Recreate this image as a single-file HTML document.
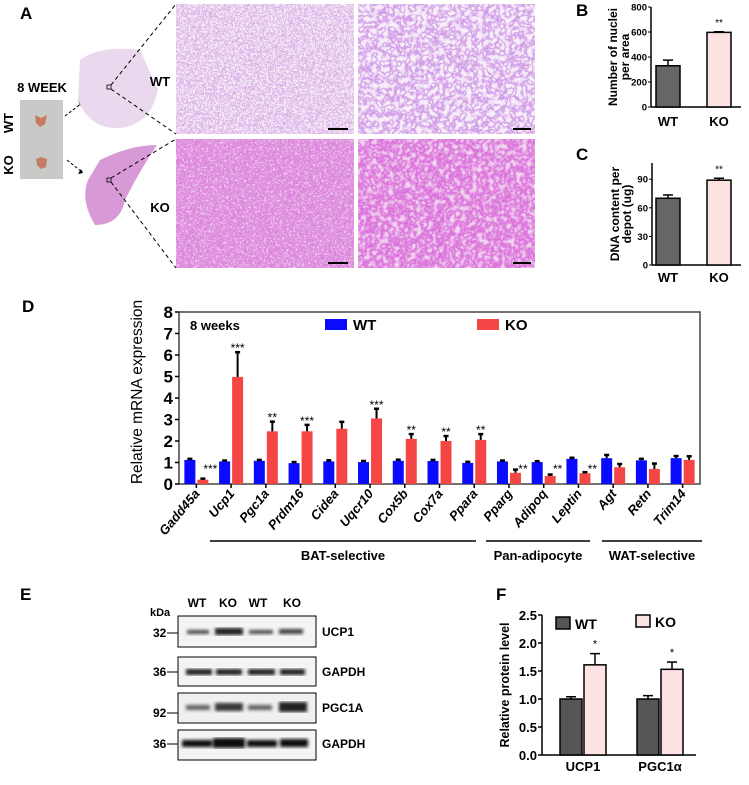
<!DOCTYPE html>
<html><head><meta charset="utf-8">
<style>
html,body{margin:0;padding:0;background:#fff;}
svg{display:block;font-family:"Liberation Sans",Arial,sans-serif;}
</style></head>
<body>
<svg id="fig" width="749" height="785" viewBox="0 0 749 785" xmlns="http://www.w3.org/2000/svg">
<defs>
<filter id="texLow" x="0" y="0" width="100%" height="100%">
  <feTurbulence type="fractalNoise" baseFrequency="0.45" numOctaves="2" seed="3"/>
  <feColorMatrix values="0 0 0 0 0.62  0 0 0 0 0.28  0 0 0 0 0.74  1 0 0 0 0"/>
  <feComponentTransfer><feFuncA type="table" tableValues="0 0 0 0.8 0.1 0 0 0"/></feComponentTransfer>
</filter>
<filter id="texLowK" x="0" y="0" width="100%" height="100%">
  <feTurbulence type="fractalNoise" baseFrequency="0.45" numOctaves="2" seed="7"/>
  <feColorMatrix values="0 0 0 0 0.7  0 0 0 0 0.2  0 0 0 0 0.7  1 0 0 0 0"/>
  <feComponentTransfer><feFuncA type="table" tableValues="0 0 0.5 1 0.6 0.1 0 0"/></feComponentTransfer>
</filter>
<filter id="texHigh" x="0" y="0" width="100%" height="100%">
  <feTurbulence type="fractalNoise" baseFrequency="0.18" numOctaves="2" seed="5"/>
  <feColorMatrix values="0 0 0 0 0.58  0 0 0 0 0.25  0 0 0 0 0.78  1 0 0 0 0"/>
  <feComponentTransfer><feFuncA type="table" tableValues="0 0 0 0.9 0.2 0 0 0"/></feComponentTransfer>
</filter>
<filter id="texHighK" x="0" y="0" width="100%" height="100%">
  <feTurbulence type="fractalNoise" baseFrequency="0.18" numOctaves="2" seed="9"/>
  <feColorMatrix values="0 0 0 0 0.7  0 0 0 0 0.15  0 0 0 0 0.7  1 0 0 0 0"/>
  <feComponentTransfer><feFuncA type="table" tableValues="0 0 0.4 1 0.5 0.1 0 0"/></feComponentTransfer>
</filter>
<filter id="blur1"><feGaussianBlur stdDeviation="1.6"/></filter>
</defs>

<!-- Panel A -->
<g>
<text x="20" y="19" font-size="17" font-weight="bold">A</text>
<text x="42" y="92" font-size="13" font-weight="bold" text-anchor="middle">8 WEEK</text>
<rect x="20" y="100" width="43" height="79" fill="#c9c9c7"/>
<path d="M35 115 l6 3 l6 -3 l-2 9 l-5 3 l-4 -4z" fill="#c77a62"/>
<path d="M36 159 l5 -2 l6 2 l-1 8 l-5 2 l-4 -4z" fill="#c57d66"/>
<text transform="translate(13,123) rotate(-90)" font-size="13" font-weight="bold" text-anchor="middle">WT</text>
<text transform="translate(13,165) rotate(-90)" font-size="13" font-weight="bold" text-anchor="middle">KO</text>
<path d="M65 116 L82 103" stroke="#000" stroke-dasharray="3,2" fill="none"/>
<path d="M78 100 l5 2 l-3 4z" fill="#000"/>
<path d="M67 160 L82 172" stroke="#000" stroke-dasharray="3,2" fill="none"/>
<path d="M78 174 l5 -1 l-2 -4z" fill="#000"/>
<path d="M80 60 Q100 45 140 50 L158 90 Q150 125 120 128 Q90 130 78 100 Z" fill="#ead8ee"/>
<path d="M100 160 Q130 145 157 145 Q140 170 125 200 Q120 225 95 225 Q80 200 88 180 Z" fill="#d89ad6"/>
<rect x="107" y="85" width="4" height="4" fill="none" stroke="#000" stroke-width="0.8"/>
<rect x="107" y="178" width="4" height="4" fill="none" stroke="#000" stroke-width="0.8"/>
<path d="M111 85 L176 4 M111 89 L176 134 M111 178 L176 139 M111 182 L176 268" stroke="#000" stroke-dasharray="4,3" fill="none"/>
<text x="160" y="86" font-size="13" font-weight="bold" text-anchor="middle">WT</text>
<text x="160" y="212" font-size="13" font-weight="bold" text-anchor="middle">KO</text>
<g><rect x="176" y="4" width="178" height="130" fill="#f6eef7"/><rect x="176" y="4" width="178" height="130" filter="url(#texLow)"/><line x1="328" y1="129" x2="348" y2="129" stroke="#000" stroke-width="2"/></g>
<g><rect x="358" y="4" width="177" height="130" fill="#f8f0f8"/><rect x="358" y="4" width="177" height="130" filter="url(#texHigh)"/><line x1="513" y1="129" x2="531" y2="129" stroke="#000" stroke-width="2"/></g>
<g><rect x="176" y="139" width="178" height="129" fill="#f0d2ee"/><rect x="176" y="139" width="178" height="129" filter="url(#texLowK)"/><line x1="328" y1="263" x2="348" y2="263" stroke="#000" stroke-width="2"/></g>
<g><rect x="358" y="139" width="177" height="129" fill="#f3dcf2"/><rect x="358" y="139" width="177" height="129" filter="url(#texHighK)"/><line x1="513" y1="263" x2="531" y2="263" stroke="#000" stroke-width="2"/></g>
</g>

<g id="panelB"></g>
<g id="panelC"></g>
<g id="panelD"></g>
<g id="panelF"></g>

<!-- Panel E -->
<g font-weight="bold">
<text x="20" y="600" font-size="17">E</text>
<text x="150" y="616" font-size="11">kDa</text>
<text x="197" y="607" font-size="12" text-anchor="middle">WT</text>
<text x="228" y="607" font-size="12" text-anchor="middle">KO</text>
<text x="258" y="607" font-size="12" text-anchor="middle">WT</text>
<text x="292" y="607" font-size="12" text-anchor="middle">KO</text>
<g>
<rect x="178" y="616" width="138" height="31" fill="#f4f4f4" stroke="#000"/>
<g filter="url(#blur1)" fill="#222"><rect x="187" y="630" width="22" height="4" opacity="0.8"/><rect x="215" y="628" width="28" height="7"/><rect x="249" y="630" width="24" height="4" opacity="0.8"/><rect x="279" y="629" width="24" height="5" opacity="0.85"/></g>
</g>
<g>
<rect x="178" y="657" width="138" height="29" fill="#f4f4f4" stroke="#000"/>
<g filter="url(#blur1)" fill="#222"><rect x="186" y="669" width="26" height="6"/><rect x="216" y="669" width="26" height="6"/><rect x="248" y="669" width="27" height="6"/><rect x="280" y="669" width="25" height="6"/></g>
</g>
<g>
<rect x="178" y="693" width="138" height="30" fill="#f0f0f0" stroke="#000"/>
<g filter="url(#blur1)" fill="#222"><rect x="186" y="705" width="24" height="5" opacity="0.7"/><rect x="215" y="703" width="28" height="8" opacity="0.9"/><rect x="248" y="705" width="24" height="5" opacity="0.7"/><rect x="279" y="702" width="28" height="10"/></g>
</g>
<g>
<rect x="178" y="730" width="138" height="30" fill="#f4f4f4" stroke="#000"/>
<g filter="url(#blur1)" fill="#111"><rect x="182" y="740" width="30" height="7"/><rect x="213" y="738" width="32" height="10"/><rect x="247" y="740" width="30" height="7"/><rect x="280" y="739" width="28" height="8"/></g>
</g>
<text x="322" y="636" font-size="12">UCP1</text>
<text x="322" y="676" font-size="12">GAPDH</text>
<text x="322" y="712" font-size="12">PGC1A</text>
<text x="322" y="748" font-size="12">GAPDH</text>
<text x="153" y="637" font-size="12">32</text><line x1="167" y1="633" x2="178" y2="633" stroke="#000"/>
<text x="153" y="676" font-size="12">36</text><line x1="167" y1="672" x2="178" y2="672" stroke="#000"/>
<text x="153" y="717" font-size="12">92</text><line x1="167" y1="713" x2="178" y2="713" stroke="#000"/>
<text x="153" y="748" font-size="12">36</text><line x1="167" y1="744" x2="178" y2="744" stroke="#000"/>
</g>
</svg>

<script>
// ---------- Panel D data ----------
const genes = ["Gadd45a","Ucp1","Pgc1a","Prdm16","Cidea","Uqcr10","Cox5b","Cox7a","Ppara","Pparg","Adipoq","Leptin","Agt","Retn","Trim14"];
const wtVals = [1.12,1.05,1.08,0.97,1.05,1.02,1.08,1.07,0.98,1.05,1.02,1.17,1.2,1.1,1.2];
const wtErr  = [0.05,0.04,0.04,0.05,0.05,0.05,0.05,0.05,0.05,0.04,0.04,0.05,0.15,0.07,0.1];
const koVals = [0.2,4.98,2.45,2.45,2.57,3.05,2.1,2.0,2.05,0.52,0.37,0.5,0.78,0.7,1.12];
const koErr  = [0.05,1.15,0.45,0.3,0.32,0.45,0.22,0.23,0.27,0.15,0.07,0.05,0.15,0.25,0.17];
const stars  = ["***","***","**","***","","***","**","**","**","**","**","**","","",""];
const dTicks = [0,1,2,3,4,5,6,7,8];
// ---------- Panel B/C data ----------
const bGroups = ["WT","KO"];
const bVals = [330,597];
const bErr = [45,5];
const bTicks = [0,200,400,600,800];
const cVals = [70,89];
const cErr = [3.5,2];
const cTicks = [0,30,60,90];
// ---------- Panel F data ----------
const fProteins = ["UCP1","PGC1\u03b1"];
const fWT = [1.0,1.0];
const fWTErr = [0.04,0.06];
const fKO = [1.61,1.53];
const fKOErr = [0.2,0.13];
const fStars = ["*","*"];
const fTicks = [0,0.5,1.0,1.5,2.0,2.5];

const NS="http://www.w3.org/2000/svg";
function mk(parent,tag,attrs,txt){const e=document.createElementNS(NS,tag);for(const k in attrs)e.setAttribute(k,attrs[k]);if(txt!==undefined)e.textContent=txt;parent.appendChild(e);return e;}

// ---------- Panel D ----------
(function(){
  const g=document.getElementById('panelD');
  const x0=179,x1=700,yTop=312,yBot=484,vMax=8;
  const y=v=>yBot-(v/vMax)*(yBot-yTop);
  const step=(x1-x0)/genes.length;
  const cx=i=>x0+step*(i+0.5);
  const bw=11;
  let t=mk(g,'text',{x:22,y:312,'font-size':17,'font-weight':'bold'},'D');
  
  
  t=mk(g,'text',{transform:'translate(142,392) rotate(-90)','font-size':15.5,'text-anchor':'middle'},'Relative mRNA expression');
  
  
  const fr=mk(g,'rect',{x:x0,y:yTop,width:x1-x0,height:yBot-yTop,fill:'none',stroke:'#444','stroke-width':1.5});
  
  
  dTicks.forEach(v=>{
    mk(g,'line',{x1:x0-4,x2:x0,y1:y(v),y2:y(v),stroke:'#000','stroke-width':1.5});
    const tl=mk(g,'text',{x:x0-6,y:y(v)+6,'font-size':17,'font-weight':'bold','text-anchor':'end'},v);
    
    
  });
  function bar(xl,v,e,col,name){
    const r=mk(g,'rect',{x:xl,y:y(v),width:bw,height:yBot-y(v),fill:col});
    
    
    const xc=xl+bw/2;
    mk(g,'line',{x1:xc,x2:xc,y1:y(v),y2:y(v+e),stroke:'#000','stroke-width':2});
    mk(g,'line',{x1:xc-2.5,x2:xc+2.5,y1:y(v+e),y2:y(v+e),stroke:'#000','stroke-width':2.5});
  }
  genes.forEach((gn,i)=>{
    const c=cx(i);
    bar(c-bw-1,wtVals[i],wtErr[i],'#0a0aff','bar-wt-'+gn.toLowerCase());
    bar(c+1,koVals[i],koErr[i],'#f54646','bar-ko-'+gn.toLowerCase());
    mk(g,'line',{x1:c,x2:c,y1:yBot,y2:yBot+4,stroke:'#000','stroke-width':1.5});
    const lb=mk(g,'text',{transform:`translate(${c+4},${yBot+10}) rotate(-50)`,'font-size':13,'font-weight':'bold','font-style':'italic','text-anchor':'end'},gn);
    
    
    if(stars[i]){
      let sx,sy;
      if(koVals[i]<1){sx=c+14;sy=y(Math.max(koVals[i]+koErr[i],0.7))-2;}
      else {sx=c+1+bw/2;sy=y(koVals[i]+koErr[i])-6;}
      const s=mk(g,'text',{x:sx,y:sy+6,'font-size':12,'text-anchor':'middle'},stars[i]);
      
      
    }
  });
  t=mk(g,'text',{x:190,y:330,'font-size':13,'font-weight':'bold'},'8 weeks');
  
  
  let lr=mk(g,'rect',{x:325,y:319,width:22,height:11,fill:'#0a0aff'});
  
  
  t=mk(g,'text',{x:353,y:330,'font-size':15,'font-weight':'bold'},'WT');
  
  
  lr=mk(g,'rect',{x:477,y:319,width:22,height:11,fill:'#f54646'});
  
  
  t=mk(g,'text',{x:505,y:330,'font-size':15,'font-weight':'bold'},'KO');
  
  
  [["BAT-selective",210,476],["Pan-adipocyte",486,590],["WAT-selective",602,702]].forEach(b=>{
    mk(g,'line',{x1:b[1],x2:b[2],y1:541,y2:541,stroke:'#000','stroke-width':1.5});
    const gl=mk(g,'text',{x:(b[1]+b[2])/2,y:560,'font-size':13,'font-weight':'bold','text-anchor':'middle'},b[0]);
    
    
  });
})();

// ---------- Panels B & C ----------
function smallBar(id,letter,ly,x0,x1,yTop,yBot,vMax,vals,errs,ticks,titleLines,tx,labelY){
  const g=document.getElementById(id);
  const y=v=>yBot-(v/vMax)*(yBot-yTop);
  let t=mk(g,'text',{x:576,y:ly,'font-size':17,'font-weight':'bold'},letter);
  
  
  mk(g,'line',{x1:x0,x2:x0,y1:yTop,y2:yBot,stroke:'#000','stroke-width':1.5});
  mk(g,'line',{x1:x0,x2:x1,y1:yBot,y2:yBot,stroke:'#000','stroke-width':1.5});
  ticks.forEach(v=>{
    mk(g,'line',{x1:x0-3,x2:x0,y1:y(v),y2:y(v),stroke:'#000'});
    const tl=mk(g,'text',{x:x0-4,y:y(v)+3.5,'font-size':9.5,'font-weight':'bold','text-anchor':'end'},v);
    
    
  });
  const cols=['#666','#fde2e2'];
  const xs=[668,719];
  vals.forEach((v,i)=>{
    const r=mk(g,'rect',{x:xs[i]-12,y:y(v),width:24,height:yBot-y(v),fill:cols[i],stroke:'#000','stroke-width':1.5});
    
    
    mk(g,'line',{x1:xs[i],x2:xs[i],y1:y(v),y2:y(v+errs[i]),stroke:'#000','stroke-width':1.5});
    mk(g,'line',{x1:xs[i]-5,x2:xs[i]+5,y1:y(v+errs[i]),y2:y(v+errs[i]),stroke:'#000','stroke-width':1.5});
    const xl=mk(g,'text',{x:xs[i],y:labelY,'font-size':13,'font-weight':'bold','text-anchor':'middle'},bGroups[i]);
    
    
  });
  const s=mk(g,'text',{x:xs[1],y:y(vals[1]+errs[1])-6,'font-size':10,'text-anchor':'middle'},'**');
  
  
  const cy=(yTop+yBot)/2;
  titleLines.forEach((ln,k)=>{
    const tt=mk(g,'text',{transform:`translate(${tx+k*12},${cy}) rotate(-90)`,'font-size':12,'font-weight':'bold','text-anchor':'middle'},ln);
    
    
  });
}
smallBar('panelB','B',16,651,741,7,107,800,bVals,bErr,bTicks,['Number of nuclei','per area'],617,126);
smallBar('panelC','C',160,652,741,163,265,107,cVals,cErr,cTicks,['DNA content per','depot (ug)'],619,282);

// ---------- Panel F ----------
(function(){
  const g=document.getElementById('panelF');
  const x0=542,x1=696,yTop=615,yBot=755,vMax=2.5;
  const y=v=>yBot-(v/vMax)*(yBot-yTop);
  let t=mk(g,'text',{x:496,y:600,'font-size':17,'font-weight':'bold'},'F');
  
  
  mk(g,'line',{x1:x0,x2:x0,y1:yTop,y2:yBot,stroke:'#000','stroke-width':1.5});
  mk(g,'line',{x1:x0,x2:x1,y1:yBot,y2:yBot,stroke:'#000','stroke-width':1.5});
  fTicks.forEach(v=>{
    mk(g,'line',{x1:x0-4,x2:x0,y1:y(v),y2:y(v),stroke:'#000','stroke-width':1.5});
    const tl=mk(g,'text',{x:x0-5,y:y(v)+5,'font-size':13,'font-weight':'bold','text-anchor':'end'},v.toFixed(1));
    
    
  });
  t=mk(g,'text',{transform:`translate(509,${(yTop+yBot)/2}) rotate(-90)`,'font-size':12.5,'font-weight':'bold','text-anchor':'middle'},'Relative protein level');
  
  
  const centers=[583,660];
  function bar(xl,v,e,fill,name){
    const r=mk(g,'rect',{x:xl,y:y(v),width:22,height:yBot-y(v),fill:fill,stroke:'#000','stroke-width':1.5});
    
    
    const xc=xl+11;
    mk(g,'line',{x1:xc,x2:xc,y1:y(v),y2:y(v+e),stroke:'#000','stroke-width':1.5});
    mk(g,'line',{x1:xc-5,x2:xc+5,y1:y(v+e),y2:y(v+e),stroke:'#000','stroke-width':1.5});
  }
  fProteins.forEach((p,i)=>{
    const c=centers[i];
    bar(c-23,fWT[i],fWTErr[i],'#555','bar-wt-'+i);
    bar(c+1,fKO[i],fKOErr[i],'#fde2e2','bar-ko-'+i);
    const s=mk(g,'text',{x:c+12,y:y(fKO[i]+fKOErr[i])-6,'font-size':11,'text-anchor':'middle'},fStars[i]);
    
    
    const xl=mk(g,'text',{x:c,y:771,'font-size':13,'font-weight':'bold','text-anchor':'middle'},p);
    
    
  });
  let lr=mk(g,'rect',{x:556,y:617,width:14,height:12,fill:'#555',stroke:'#000','stroke-width':1.5});
  
  
  t=mk(g,'text',{x:575,y:629,'font-size':14,'font-weight':'bold'},'WT');
  
  
  lr=mk(g,'rect',{x:636,y:615,width:14,height:12,fill:'#fde2e2',stroke:'#000','stroke-width':1.5});
  
  
  t=mk(g,'text',{x:655,y:627,'font-size':14,'font-weight':'bold'},'KO');
  
  
})();
</script>
</body></html>
